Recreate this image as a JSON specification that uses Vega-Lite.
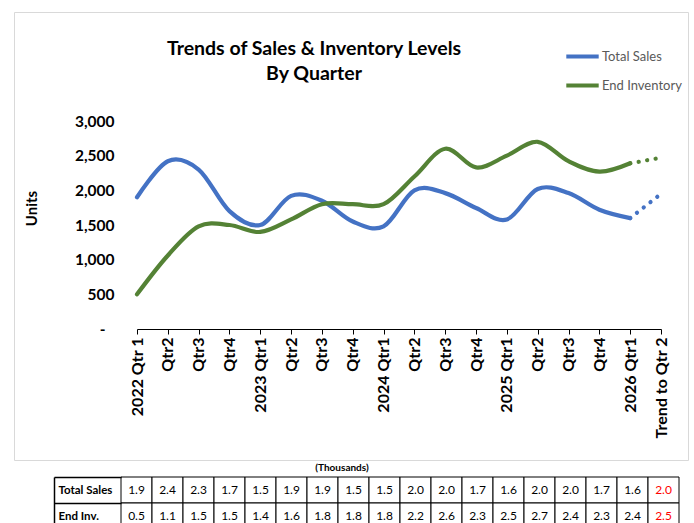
{
 "$schema": "https://vega.github.io/schema/vega-lite/v6.json",
 "background": "white",
 "padding": {"left": 13, "top": 11, "right": 0, "bottom": 0},
 "config": {"font": "Lato", "view": {"stroke": null}, "concat": {"spacing": 2}},
 "datasets": {
  "lines": [
   {"quarter": "2022 Qtr 1", "series": "Total Sales", "units": 1900, "seg": "actual"},
   {"quarter": "2022 Qtr2", "series": "Total Sales", "units": 2420, "seg": "actual"},
   {"quarter": "2022 Qtr3", "series": "Total Sales", "units": 2300, "seg": "actual"},
   {"quarter": "2022 Qtr4", "series": "Total Sales", "units": 1700, "seg": "actual"},
   {"quarter": "2023 Qtr1", "series": "Total Sales", "units": 1500, "seg": "actual"},
   {"quarter": "2023 Qtr2", "series": "Total Sales", "units": 1920, "seg": "actual"},
   {"quarter": "2023 Qtr3", "series": "Total Sales", "units": 1850, "seg": "actual"},
   {"quarter": "2023 Qtr4", "series": "Total Sales", "units": 1550, "seg": "actual"},
   {"quarter": "2024 Qtr1", "series": "Total Sales", "units": 1480, "seg": "actual"},
   {"quarter": "2024 Qtr2", "series": "Total Sales", "units": 2000, "seg": "actual"},
   {"quarter": "2024 Qtr3", "series": "Total Sales", "units": 1960, "seg": "actual"},
   {"quarter": "2024 Qtr4", "series": "Total Sales", "units": 1745, "seg": "actual"},
   {"quarter": "2025 Qtr1", "series": "Total Sales", "units": 1580, "seg": "actual"},
   {"quarter": "2025 Qtr2", "series": "Total Sales", "units": 2020, "seg": "actual"},
   {"quarter": "2025 Qtr3", "series": "Total Sales", "units": 1960, "seg": "actual"},
   {"quarter": "2025 Qtr4", "series": "Total Sales", "units": 1720, "seg": "actual"},
   {"quarter": "2026 Qtr1", "series": "Total Sales", "units": 1600, "seg": "actual"},
   {"quarter": "Trend to Qtr 2", "series": "Total Sales", "units": 1950, "seg": "trend"},
   {"quarter": "2022 Qtr 1", "series": "End Inventory", "units": 500, "seg": "actual"},
   {"quarter": "2022 Qtr2", "series": "End Inventory", "units": 1060, "seg": "actual"},
   {"quarter": "2022 Qtr3", "series": "End Inventory", "units": 1480, "seg": "actual"},
   {"quarter": "2022 Qtr4", "series": "End Inventory", "units": 1500, "seg": "actual"},
   {"quarter": "2023 Qtr1", "series": "End Inventory", "units": 1400, "seg": "actual"},
   {"quarter": "2023 Qtr2", "series": "End Inventory", "units": 1580, "seg": "actual"},
   {"quarter": "2023 Qtr3", "series": "End Inventory", "units": 1800, "seg": "actual"},
   {"quarter": "2023 Qtr4", "series": "End Inventory", "units": 1800, "seg": "actual"},
   {"quarter": "2024 Qtr1", "series": "End Inventory", "units": 1800, "seg": "actual"},
   {"quarter": "2024 Qtr2", "series": "End Inventory", "units": 2200, "seg": "actual"},
   {"quarter": "2024 Qtr3", "series": "End Inventory", "units": 2600, "seg": "actual"},
   {"quarter": "2024 Qtr4", "series": "End Inventory", "units": 2330, "seg": "actual"},
   {"quarter": "2025 Qtr1", "series": "End Inventory", "units": 2500, "seg": "actual"},
   {"quarter": "2025 Qtr2", "series": "End Inventory", "units": 2700, "seg": "actual"},
   {"quarter": "2025 Qtr3", "series": "End Inventory", "units": 2420, "seg": "actual"},
   {"quarter": "2025 Qtr4", "series": "End Inventory", "units": 2270, "seg": "actual"},
   {"quarter": "2026 Qtr1", "series": "End Inventory", "units": 2390, "seg": "actual"},
   {"quarter": "Trend to Qtr 2", "series": "End Inventory", "units": 2470, "seg": "trend"}
  ],
  "table": [
   {"quarter": "2022 Qtr 1", "row": "Total Sales", "val": 1.9},
   {"quarter": "2022 Qtr2", "row": "Total Sales", "val": 2.4},
   {"quarter": "2022 Qtr3", "row": "Total Sales", "val": 2.3},
   {"quarter": "2022 Qtr4", "row": "Total Sales", "val": 1.7},
   {"quarter": "2023 Qtr1", "row": "Total Sales", "val": 1.5},
   {"quarter": "2023 Qtr2", "row": "Total Sales", "val": 1.9},
   {"quarter": "2023 Qtr3", "row": "Total Sales", "val": 1.9},
   {"quarter": "2023 Qtr4", "row": "Total Sales", "val": 1.5},
   {"quarter": "2024 Qtr1", "row": "Total Sales", "val": 1.5},
   {"quarter": "2024 Qtr2", "row": "Total Sales", "val": 2.0},
   {"quarter": "2024 Qtr3", "row": "Total Sales", "val": 2.0},
   {"quarter": "2024 Qtr4", "row": "Total Sales", "val": 1.7},
   {"quarter": "2025 Qtr1", "row": "Total Sales", "val": 1.6},
   {"quarter": "2025 Qtr2", "row": "Total Sales", "val": 2.0},
   {"quarter": "2025 Qtr3", "row": "Total Sales", "val": 2.0},
   {"quarter": "2025 Qtr4", "row": "Total Sales", "val": 1.7},
   {"quarter": "2026 Qtr1", "row": "Total Sales", "val": 1.6},
   {"quarter": "Trend to Qtr 2", "row": "Total Sales", "val": 2.0},
   {"quarter": "2022 Qtr 1", "row": "End Inv.", "val": 0.5},
   {"quarter": "2022 Qtr2", "row": "End Inv.", "val": 1.1},
   {"quarter": "2022 Qtr3", "row": "End Inv.", "val": 1.5},
   {"quarter": "2022 Qtr4", "row": "End Inv.", "val": 1.5},
   {"quarter": "2023 Qtr1", "row": "End Inv.", "val": 1.4},
   {"quarter": "2023 Qtr2", "row": "End Inv.", "val": 1.6},
   {"quarter": "2023 Qtr3", "row": "End Inv.", "val": 1.8},
   {"quarter": "2023 Qtr4", "row": "End Inv.", "val": 1.8},
   {"quarter": "2024 Qtr1", "row": "End Inv.", "val": 1.8},
   {"quarter": "2024 Qtr2", "row": "End Inv.", "val": 2.2},
   {"quarter": "2024 Qtr3", "row": "End Inv.", "val": 2.6},
   {"quarter": "2024 Qtr4", "row": "End Inv.", "val": 2.3},
   {"quarter": "2025 Qtr1", "row": "End Inv.", "val": 2.5},
   {"quarter": "2025 Qtr2", "row": "End Inv.", "val": 2.7},
   {"quarter": "2025 Qtr3", "row": "End Inv.", "val": 2.4},
   {"quarter": "2025 Qtr4", "row": "End Inv.", "val": 2.3},
   {"quarter": "2026 Qtr1", "row": "End Inv.", "val": 2.4},
   {"quarter": "Trend to Qtr 2", "row": "End Inv.", "val": 2.5}
  ]
 },
 "vconcat": [
  {
   "width": 674,
   "height": 448,
   "view": {"stroke": "#d9d9d9", "strokeWidth": 1},
   "title": {"text": ["Trends of Sales & Inventory Levels", "By Quarter"], "fontSize": 19.5, "font": "Lato", "fontWeight": "bold", "color": "#000000", "anchor": "middle", "frame": "group", "dx": -37, "offset": -72, "lineHeight": 25},
   "data": {"name": "lines"},
   "encoding": {
    "x": {"field": "quarter", "type": "ordinal",
      "scale": {"type": "point", "padding": 0, "range": [123, 647], "domain": ["2022 Qtr 1","2022 Qtr2","2022 Qtr3","2022 Qtr4","2023 Qtr1","2023 Qtr2","2023 Qtr3","2023 Qtr4","2024 Qtr1","2024 Qtr2","2024 Qtr3","2024 Qtr4","2025 Qtr1","2025 Qtr2","2025 Qtr3","2025 Qtr4","2026 Qtr1","Trend to Qtr 2"]},
      "axis": {"orient": "bottom", "offset": -131, "title": null, "labelAngle": 270, "labelFontSize": 16, "labelFontWeight": "bold", "labelColor": "#000000", "labelPadding": 3, "tickSize": 5, "tickColor": "#000000", "domainColor": "#000000", "grid": false, "labelOverlap": false, "labelBound": false, "labelFlush": false,
        "labelExpr": "indexof(datum.label, 'Qtr2') >= 0 || indexof(datum.label, 'Qtr3') >= 0 || indexof(datum.label, 'Qtr4') >= 0 ? slice(datum.label, 5) : datum.label"}},
    "y": {"field": "units", "type": "quantitative",
      "scale": {"domain": [0, 3000], "range": [317, 109], "nice": false},
      "axis": {"orient": "left", "offset": -100, "values": [0, 500, 1000, 1500, 2000, 2500, 3000], "domain": false, "ticks": false, "grid": false,
        "labelPadding": {"condition": {"test": "datum.value == 0", "value": 9}, "value": 0},
        "labelFontSize": 15.5, "labelFontWeight": "bold", "labelColor": "#000000",
        "labelExpr": "datum.value == 0 ? '-' : format(datum.value, ',')",
        "title": "Units", "titleFontSize": 15, "titleFontWeight": "bold", "titleColor": "#000000", "titlePadding": 35, "titleY": 196}},
    "color": {"field": "series", "type": "nominal",
      "scale": {"domain": ["Total Sales", "End Inventory"], "range": ["#4472c4", "#548235"]},
      "legend": {"orient": "none", "legendX": 550, "legendY": 26, "title": null, "symbolType": "stroke", "symbolStrokeWidth": 4, "symbolSize": 1050, "labelFontSize": 13, "labelColor": "#595959", "labelOffset": 1, "rowPadding": 2, "padding": 0}}
   },
   "layer": [
    {"transform": [{"filter": "datum.seg == 'actual'"}], "mark": {"type": "line", "interpolate": "cardinal", "strokeWidth": 4.2, "strokeCap": "round"}},
    {"transform": [{"filter": "datum.seg == 'trend' || datum.quarter == '2026 Qtr1'"}], "mark": {"type": "line", "strokeWidth": 4.2, "strokeDash": [0.1, 8.5], "strokeCap": "round"}}
   ]
  },
  {
   "width": 674,
   "height": 52,
   "title": {"text": "(Thousands)", "fontSize": 10, "font": "Lato", "fontWeight": "bold", "color": "#000000", "anchor": "middle", "frame": "group", "dx": -9, "offset": -2},
   "data": {"name": "table"},
   "encoding": {
    "x": {"field": "quarter", "type": "nominal",
      "scale": {"type": "band", "range": [107, 665], "paddingInner": 0, "paddingOuter": 0, "domain": ["2022 Qtr 1","2022 Qtr2","2022 Qtr3","2022 Qtr4","2023 Qtr1","2023 Qtr2","2023 Qtr3","2023 Qtr4","2024 Qtr1","2024 Qtr2","2024 Qtr3","2024 Qtr4","2025 Qtr1","2025 Qtr2","2025 Qtr3","2025 Qtr4","2026 Qtr1","Trend to Qtr 2"]},
      "axis": null},
    "y": {"field": "row", "type": "nominal",
      "scale": {"domain": ["Total Sales", "End Inv."], "paddingInner": 0, "paddingOuter": 0},
      "axis": {"orient": "left", "offset": -40, "title": null, "domainColor": "#000000", "domainWidth": 1.5, "tickColor": "#000000", "tickSize": -67, "tickWidth": 1.5, "tickBand": "extent", "labelAlign": "left", "labelPadding": 63, "labelFontSize": 11.5, "labelFontWeight": "bold", "labelColor": "#000000"}}
   },
   "layer": [
    {"mark": {"type": "rect", "fill": "white", "stroke": "#000000", "strokeWidth": 1}},
    {"mark": {"type": "text", "fontSize": 12, "font": "Lato"},
     "encoding": {
      "text": {"field": "val", "type": "quantitative", "format": ".1f"},
      "color": {"condition": {"test": "datum.quarter == 'Trend to Qtr 2'", "value": "#ff0000"}, "value": "#000000"}}}
   ]
  }
 ]
}
